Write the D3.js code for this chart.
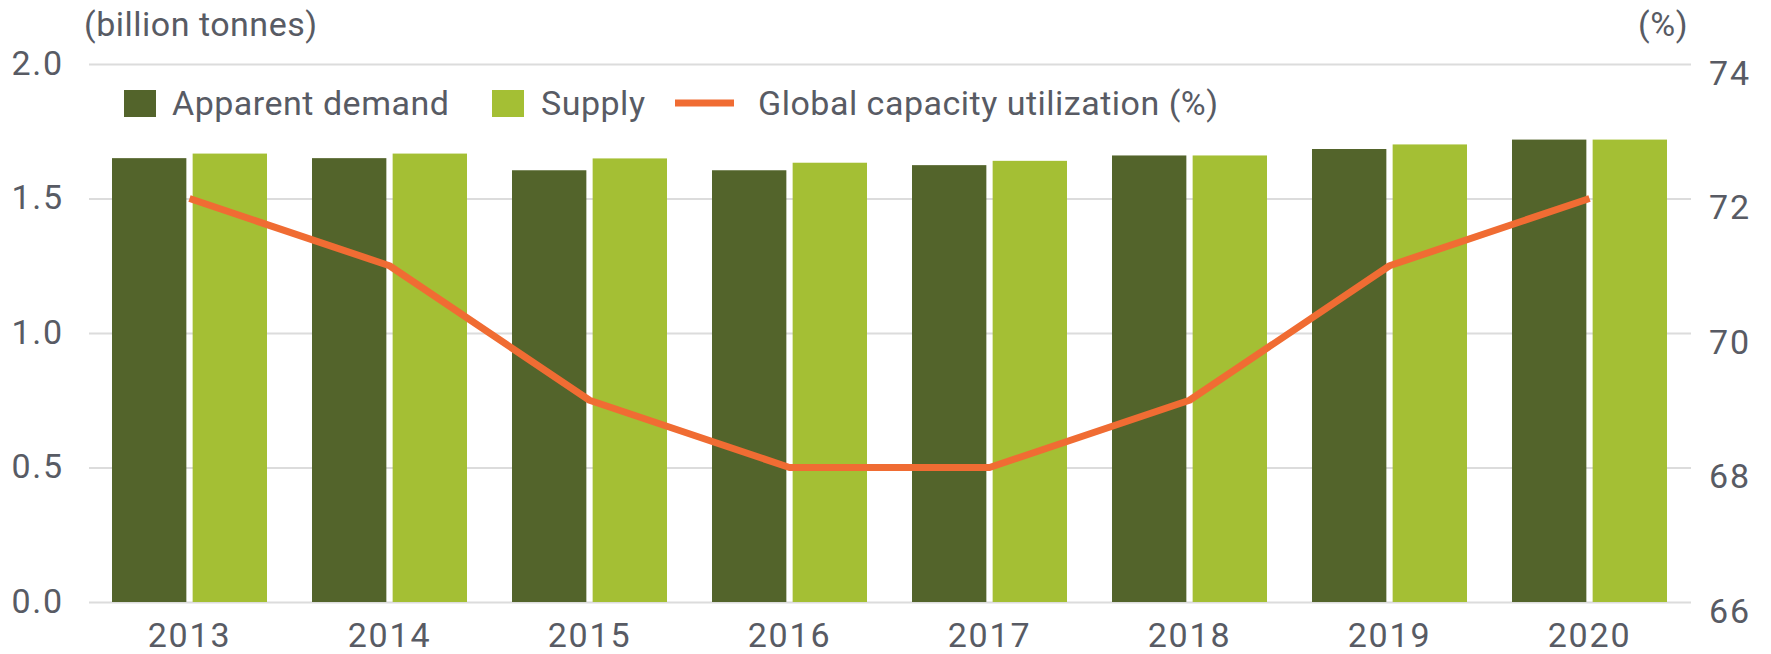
<!DOCTYPE html>
<html>
<head>
<meta charset="utf-8">
<script src="https://cdn.jsdelivr.net/npm/d3@7"></script>
<style>
  body { margin: 0; background: #fff; }
  svg text { font-family: Roboto, "Liberation Sans", sans-serif; fill: #585b64; }
  .grid line { stroke: #dcdcdc; stroke-width: 2; }
  .grid .domain { display: none; }
  .num { font-size: 34px; letter-spacing: 1.8px; }
  .lbl { font-size: 34px; letter-spacing: 0.5px; }
</style>
</head>
<body>
<svg id="chart" width="1771" height="654"></svg>
<script>
(function() {

// chart values
const years = ['2013', '2014', '2015', '2016', '2017', '2018', '2019', '2020'];
const apparentDemand = [1.65, 1.65, 1.605, 1.605, 1.624, 1.66, 1.684, 1.719];
const supply = [1.667, 1.667, 1.649, 1.633, 1.64, 1.66, 1.701, 1.719];
const utilization = [72, 71, 69, 68, 68, 69, 71, 72];
const leftTicks = [0, 0.5, 1.0, 1.5, 2.0];
const rightTicks = [66, 68, 70, 72, 74];

const darkGreen = '#53642b',
      lightGreen = '#a4bf34',
      orange = '#f06c33';

var svg = d3.select('#chart');

var plot = {left: 89, right: 1691, top: 64, bottom: 602};

var x = d3.scaleBand()
    .domain(years)
    .range([plot.left + 0.5, plot.right - 1.5])
    .paddingInner(0.225)
    .paddingOuter(0.1125);

var xSeries = d3.scaleBand()
    .domain(['demand', 'supply'])
    .range([0, x.bandwidth()])
    .paddingInner(0.078);

var y = d3.scaleLinear()
    .domain([0, 2])
    .range([plot.bottom, plot.top]);

var y2 = d3.scaleLinear()
    .domain([66, 74])
    .range([plot.bottom, plot.top]);

// gridlines + left axis labels
var leftAxis = svg.append('g')
    .attr('class', 'grid')
    .attr('transform', 'translate(' + plot.left + ',0)')
    .call(d3.axisLeft(y)
        .tickValues(leftTicks)
        .tickFormat(d3.format('.1f'))
        .tickSize(-(plot.right - plot.left))
        .tickPadding(25));
leftAxis.selectAll('text')
    .attr('class', 'num')
    .attr('dy', '0.3em');

// right axis labels
var rightAxis = svg.append('g')
    .attr('transform', 'translate(' + plot.right + ',0)')
    .call(d3.axisRight(y2)
        .tickValues(rightTicks)
        .tickSize(0)
        .tickPadding(18));
rightAxis.select('.domain').remove();
rightAxis.selectAll('text')
    .attr('class', 'num')
    .attr('dy', '0.6em');

// bars
var rows = years.map(function(yr, i) {
    return {year: yr, values: [
        {key: 'demand', value: apparentDemand[i]},
        {key: 'supply', value: supply[i]}
    ]};
});

var groups = svg.append('g').selectAll('.year')
    .data(rows)
  .enter().append('g')
    .attr('class', 'year')
    .attr('transform', function(d) { return 'translate(' + x(d.year) + ',0)'; });

groups.selectAll('rect')
    .data(function(d) { return d.values; })
  .enter().append('rect')
    .attr('x', function(d) { return xSeries(d.key); })
    .attr('width', xSeries.bandwidth())
    .attr('y', function(d) { return y(d.value); })
    .attr('height', function(d) { return y(0) - y(d.value); })
    .attr('fill', function(d) { return d.key === 'demand' ? darkGreen : lightGreen; });

// utilization line
var line = d3.line()
    .x(function(d, i) { return x(years[i]) + x.bandwidth() / 2; })
    .y(function(d) { return y2(d); });

svg.append('path')
    .datum(utilization)
    .attr('d', line)
    .attr('fill', 'none')
    .attr('stroke', orange)
    .attr('stroke-width', 7)
    .attr('stroke-linejoin', 'round');

// x axis labels
var bottomAxis = svg.append('g')
    .attr('transform', 'translate(0,' + plot.bottom + ')')
    .call(d3.axisBottom(x).tickSize(0).tickPadding(21));
bottomAxis.select('.domain').remove();
bottomAxis.selectAll('text')
    .attr('class', 'num');

// axis titles
svg.append('text')
    .attr('class', 'lbl')
    .attr('x', 84)
    .attr('y', 36)
    .text('(billion tonnes)');

svg.append('text')
    .attr('class', 'lbl')
    .attr('x', 1688)
    .attr('y', 36)
    .attr('text-anchor', 'end')
    .text('(%)');

// legend
var legend = svg.append('g').attr('transform', 'translate(0,103)');

legend.append('rect')
    .attr('x', 124).attr('y', -13)
    .attr('width', 32).attr('height', 27)
    .attr('fill', darkGreen);
legend.append('text')
    .attr('class', 'lbl')
    .attr('x', 172).attr('y', 12)
    .text('Apparent demand');

legend.append('rect')
    .attr('x', 492).attr('y', -13)
    .attr('width', 32).attr('height', 27)
    .attr('fill', lightGreen);
legend.append('text')
    .attr('class', 'lbl')
    .attr('x', 541).attr('y', 12)
    .text('Supply');

legend.append('line')
    .attr('x1', 675).attr('x2', 734)
    .attr('y1', 0).attr('y2', 0)
    .attr('stroke', orange)
    .attr('stroke-width', 7);
legend.append('text')
    .attr('class', 'lbl')
    .attr('x', 758).attr('y', 12)
    .text('Global capacity utilization (%)');

})();
</script>
</body>
</html>
